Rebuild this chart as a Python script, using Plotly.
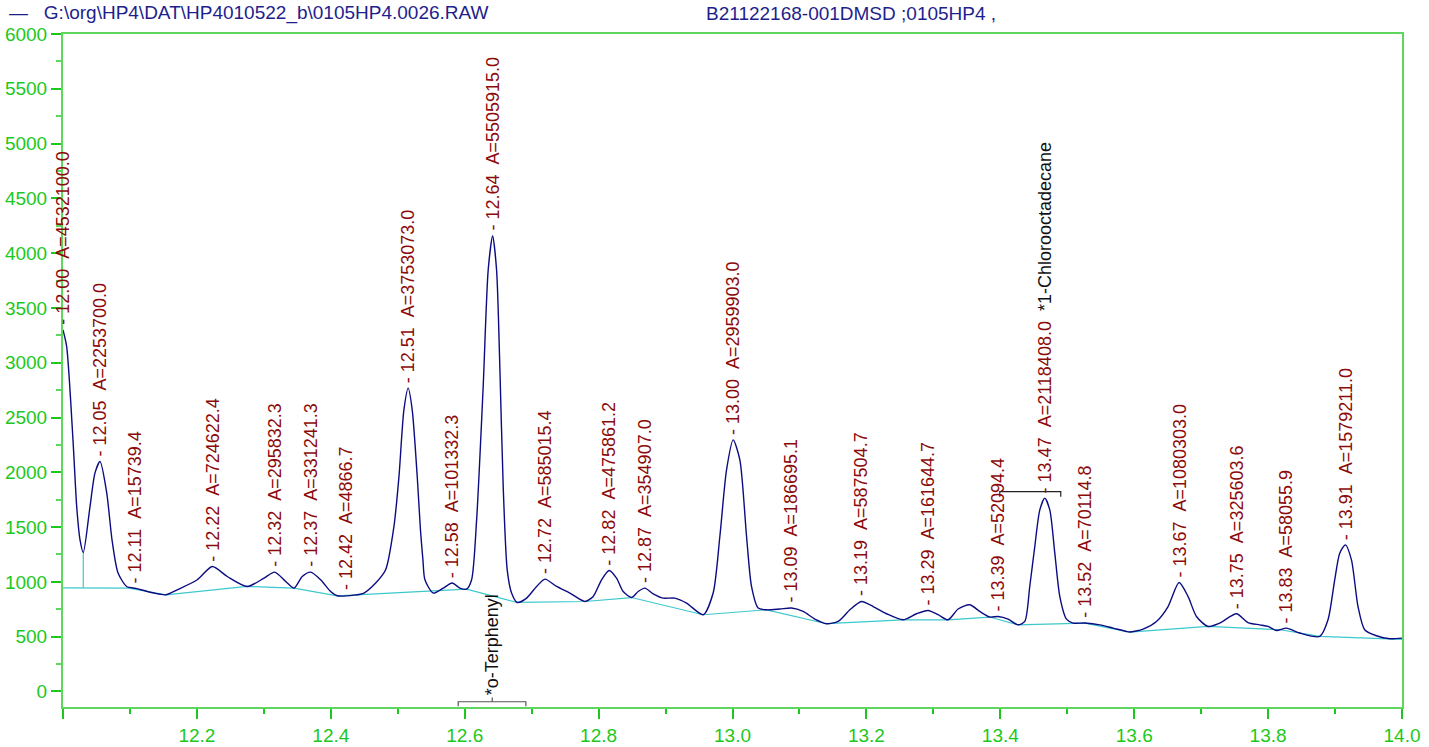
import plotly.graph_objects as go

# chromatogram trace (retention time in min, detector signal)
rt = [12.0000, 12.0055, 12.0149, 12.0205, 12.0254, 12.0303, 12.0403, 12.0478, 12.0553, 12.0653,
      12.0732, 12.0821, 12.0951, 12.1086, 12.1210, 12.1359, 12.1534, 12.1707, 12.2006, 12.2230,
      12.2454, 12.2752, 12.3002, 12.3161, 12.3326, 12.3450, 12.3573, 12.3699, 12.3848, 12.3998,
      12.4096, 12.4346, 12.4495, 12.4670, 12.4819, 12.4943, 12.5018, 12.5092, 12.5156, 12.5216,
      12.5291, 12.5339, 12.5376, 12.5406, 12.5530, 12.5679, 12.5813, 12.5928, 12.6028, 12.6103,
      12.6178, 12.6276, 12.6351, 12.6417, 12.6476, 12.6526, 12.6575, 12.6635, 12.6700, 12.6784,
      12.6925, 12.7074, 12.7198, 12.7373, 12.7571, 12.7795, 12.7919, 12.8044, 12.8158, 12.8268,
      12.8367, 12.8492, 12.8591, 12.8691, 12.8815, 12.8964, 12.9139, 12.9314, 12.9562, 12.9711,
      12.9811, 12.9911, 13.0010, 13.0110, 13.0210, 13.0284, 13.0383, 13.0508, 13.0707, 13.0882,
      13.1055, 13.1230, 13.1404, 13.1578, 13.1753, 13.1927, 13.2101, 13.2300, 13.2548, 13.2748,
      13.2922, 13.3071, 13.3220, 13.3370, 13.3544, 13.3694, 13.3843, 13.3967, 13.4116, 13.4266,
      13.4366, 13.4440, 13.4515, 13.4590, 13.4664, 13.4739, 13.4814, 13.4889, 13.4989, 13.5088,
      13.5262, 13.5486, 13.5685, 13.5885, 13.5934, 13.6133, 13.6333, 13.6506, 13.6670, 13.6804,
      13.6930, 13.7103, 13.7278, 13.7527, 13.7700, 13.7875, 13.7999, 13.8124, 13.8274, 13.8472,
      13.8771, 13.8895, 13.8995, 13.9070, 13.9155, 13.9245, 13.9343, 13.9443, 13.9618, 13.9817,
      14.0000]
signal = [3300, 3147, 2296, 1685, 1384, 1268, 1685, 1995, 2098, 1813,
          1384, 1083, 958, 940, 921, 898, 882, 928, 1019, 1140,
          1049, 958, 1034, 1089, 1003, 943, 1049, 1089, 1019, 912,
          873, 879, 898, 989, 1110, 1505, 1961, 2570, 2768, 2570,
          1961, 1475, 1201, 1019, 898, 943, 989, 943, 934, 1019,
          1566, 2782, 3847, 4157, 3847, 2935, 1870, 1110, 898, 812,
          852, 958, 1025, 958, 898, 821, 867, 1019, 1104, 1034,
          912, 857, 912, 943, 891, 852, 852, 806, 700, 898,
          1414, 2022, 2296, 2114, 1414, 958, 761, 745, 752, 761,
          730, 660, 618, 639, 745, 821, 775, 709, 654, 709,
          739, 700, 654, 752, 791, 730, 679, 684, 660, 608,
          639, 958, 1323, 1657, 1764, 1657, 1262, 866, 660, 624,
          624, 608, 578, 547, 542, 569, 639, 775, 994, 867,
          684, 593, 624, 709, 629, 608, 593, 556, 578, 533,
          502, 654, 1019, 1262, 1338, 1201, 775, 563, 508, 481,
          487]

# integration baseline
base_rt = [12.0000, 12.0986, 12.1534, 12.2752, 12.3450, 12.4096, 12.6028, 12.6784, 12.7795, 12.8492,
           12.9562, 13.0508, 13.1404, 13.2548, 13.3220, 13.3843, 13.4266, 13.5262, 13.5934, 13.7103,
           13.8184, 13.8771, 14.0000]
base_sig = [946, 943, 882, 958, 943, 873, 934, 812, 821, 857,
            700, 745, 618, 654, 654, 679, 608, 624, 542, 593,
            563, 502, 476]
drop_rt = [12.0303, 12.0303]
drop_sig = [946, 1268]

# peak table
peak_label = ["12.00", "12.05", "12.11", "12.22", "12.32", "12.37", "12.42", "12.51", "12.58", "12.64",
              "12.72", "12.82", "12.87", "13.00", "13.09", "13.19", "13.29", "13.39", "13.47", "13.52",
              "13.67", "13.75", "13.83", "13.91"]
peak_area = ["4532100.0", "2253700.0", "15739.4", "724622.4", "295832.3", "331241.3", "4866.7",
             "3753073.0", "101332.3", "5505915.0", "585015.4", "475861.2", "354907.0", "2959903.0",
             "186695.1", "587504.7", "161644.7", "52094.4", "2118408.0", "70114.8", "1080303.0",
             "325603.6", "58055.9", "1579211.0"]
peak_apex = [12.0000, 12.0553, 12.1075, 12.2230, 12.3161, 12.3699, 12.4226, 12.5156, 12.5813, 12.6417,
             12.7198, 12.8158, 12.8691, 13.0010, 13.0882, 13.1927, 13.2922, 13.3967, 13.4664, 13.5262,
             13.6670, 13.7527, 13.8274, 13.9155]
peak_top = [3300, 2098, 940, 1140, 1089, 1089, 879, 2768, 989, 4157,
            1025, 1104, 943, 2296, 761, 821, 739, 684, 1764, 624,
            994, 709, 578, 1338]
peak_name = {"13.47": "*1-Chlorooctadecane"}

# o-Terphenyl window marker below the axis
terph_x = [12.5903, 12.5903, 12.6914, 12.6914, None, 12.6411, 12.6411]
terph_y = [-135, -94, -94, -135, None, -94, -55]
terph_label = "*o-Terphenyl"
# 1-Chlorooctadecane window marker
chloro_x = [13.3992, 13.3992, 13.4903, 13.4903]
chloro_y = [1776, 1824, 1824, 1776]

x_ticks = [12.0, 12.2, 12.4, 12.6, 12.8, 13.0, 13.2, 13.4, 13.6, 13.8, 14.0]
x_text = ["", "12.2", "12.4", "12.6", "12.8", "13.0", "13.2", "13.4", "13.6", "13.8", "14.0"]

file_name = r"G:\org\HP4\DAT\HP4010522_b\0105HP4.0026.RAW"
sample_name = "B21122168-001DMSD ;0105HP4 ,"

FONT = "Liberation Sans, Arial, sans-serif"
GREEN = "#1cc81c"
AXIS = "#5fd65f"
RED = "#8b0a0a"
NAVY = "#0c0c82"
CYAN = "#3cc8cc"

fig = go.Figure()
fig.add_trace(go.Scatter(x=base_rt, y=base_sig, mode="lines", line=dict(color=CYAN, width=1.2),
                         hoverinfo="skip"))
fig.add_trace(go.Scatter(x=drop_rt, y=drop_sig, mode="lines", line=dict(color=CYAN, width=1.2),
                         hoverinfo="skip"))
fig.add_trace(go.Scatter(x=rt, y=signal, mode="lines",
                         line=dict(color=NAVY, width=1.4, shape="spline", smoothing=0.7)))
fig.add_trace(go.Scatter(x=terph_x, y=terph_y, mode="lines", line=dict(color="#555555", width=1.2),
                         cliponaxis=False, hoverinfo="skip"))
fig.add_trace(go.Scatter(x=chloro_x, y=chloro_y, mode="lines", line=dict(color="#222222", width=1.2),
                         hoverinfo="skip"))

sp = "\u00a0"
for lab, area, xa, ya in zip(peak_label, peak_area, peak_apex, peak_top):
    txt = f"-{sp}{lab}{sp}{sp}A={area}"
    if lab in peak_name:
        txt += f"{sp}{sp}<span style='color:#111111'>{peak_name[lab]}</span>"
    fig.add_annotation(x=xa, y=ya, text=txt, textangle=-90, showarrow=False,
                       xanchor="center", yanchor="bottom", yshift=3,
                       font=dict(family=FONT, size=18, color=RED))

fig.add_annotation(x=terph_x[5], y=terph_y[6], text=terph_label, textangle=-90, showarrow=False,
                   xanchor="center", yanchor="bottom", yshift=0,
                   font=dict(family=FONT, size=18, color="#111111"))

# header line above the plot
fig.add_annotation(xref="paper", yref="paper", x=0, y=1, xanchor="left", yanchor="middle",
                   xshift=-56, yshift=21, showarrow=False,
                   text=f"—{sp}{sp}{sp}{file_name}",
                   font=dict(family=FONT, size=19, color="#1e1e8c"))
fig.add_annotation(xref="paper", yref="paper", x=0, y=1, xanchor="left", yanchor="middle",
                   xshift=641, yshift=21, showarrow=False, text=sample_name,
                   font=dict(family=FONT, size=19, color="#1e1e8c"))

fig.update_xaxes(range=[12.0, 14.0], tickvals=x_ticks, ticktext=x_text, automargin=False,
                 ticks="outside", ticklen=10, tickcolor=GREEN, tickwidth=1.5,
                 minor=dict(tickmode="linear", tick0=12.0, dtick=0.1, ticks="outside",
                            ticklen=5, tickcolor=GREEN, tickwidth=1.5),
                 showline=True, linecolor=AXIS, linewidth=1.5, mirror=True,
                 showgrid=False, zeroline=False,
                 tickfont=dict(family=FONT, size=19, color=GREEN))
fig.update_yaxes(range=[-142, 6000], tick0=0, dtick=500, tickformat="d", automargin=False,
                 ticks="outside", ticklen=10, tickcolor=GREEN, tickwidth=1.5,
                 minor=dict(tick0=0, dtick=250, ticks="outside", ticklen=5,
                            tickcolor=AXIS, tickwidth=1.5),
                 showline=True, linecolor=AXIS, linewidth=2, mirror=True,
                 showgrid=False, zeroline=False,
                 tickfont=dict(family=FONT, size=19, color=GREEN))
fig.update_layout(width=1429, height=747, showlegend=False,
                  plot_bgcolor="white", paper_bgcolor="white",
                  margin=dict(l=63, r=27, t=34, b=40),
                  font=dict(family=FONT))
# drop the browser's default 8px body margin so the figure fills the window
fig.write_html("out.html", config={"displayModeBar": False},
               post_script="document.body.style.margin='0';document.body.style.overflow='hidden';")
